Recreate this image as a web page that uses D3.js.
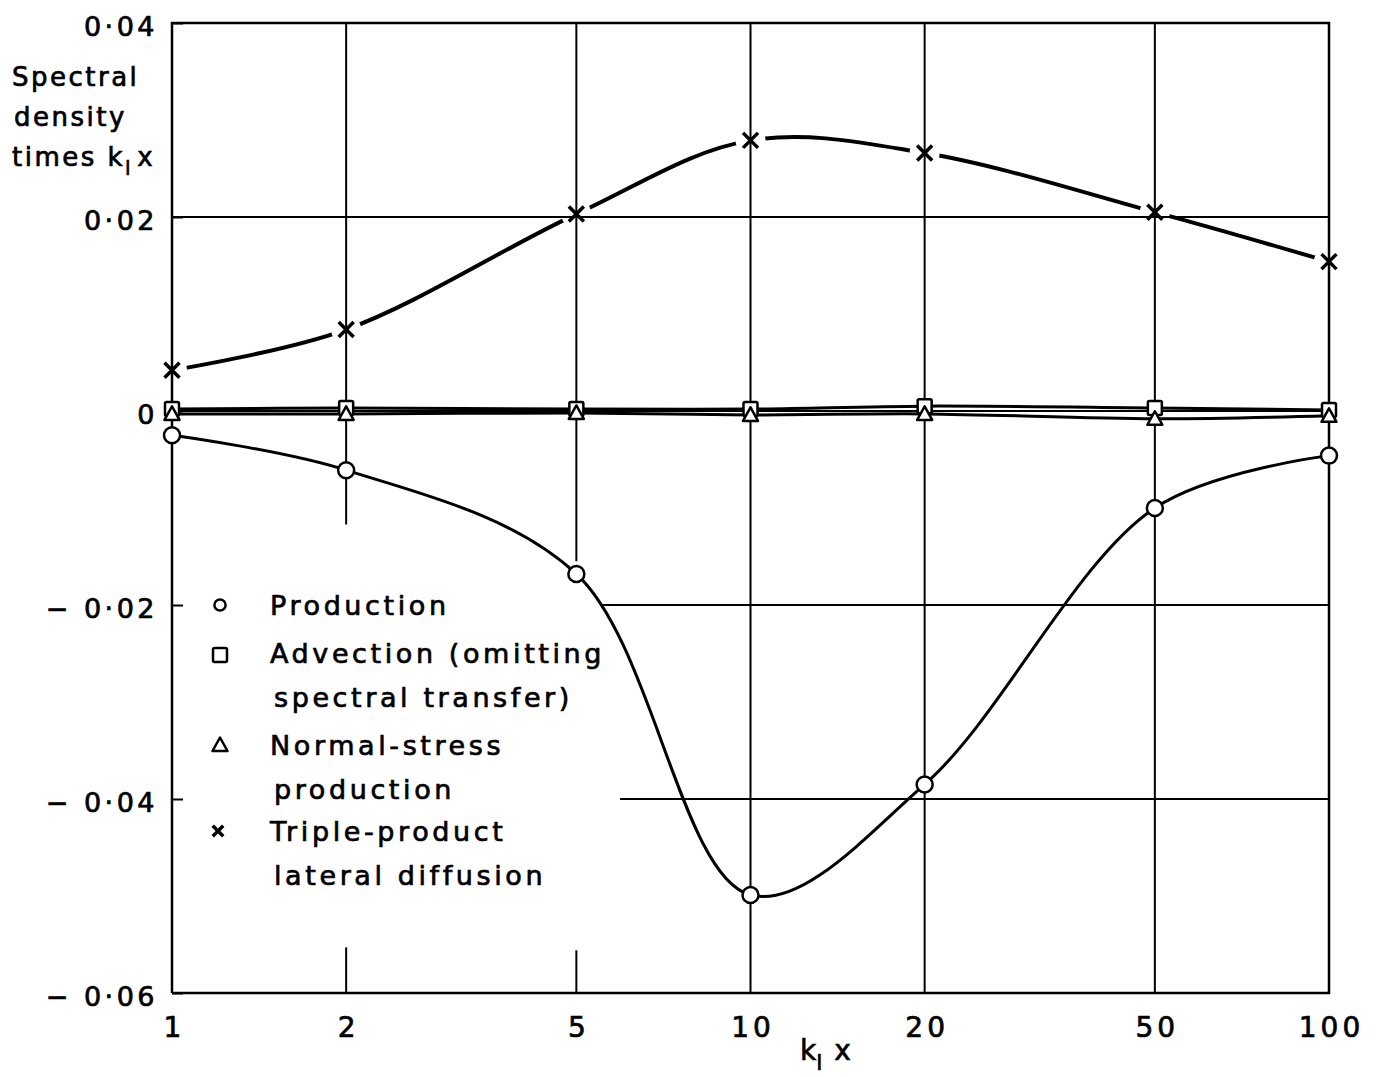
<!DOCTYPE html>
<html>
<head>
<meta charset="utf-8">
<script src="https://cdn.jsdelivr.net/npm/d3@7"></script>
<style>
  body { margin: 0; background: #fff; }
  svg { display: block; }
  text { font-family: "DejaVu Sans", sans-serif; fill: #000; stroke: #000; stroke-width: 0.7px; }
</style>
</head>
<body>
<svg id="chart" width="1389" height="1077"></svg>
<script>
// Wavenumber k1·x at which the spectra were evaluated
const kx = [1, 2, 5, 10, 20, 50, 100];

// Spectral density times k1·x for each term of the energy balance
const production    = [-0.0025, -0.0061, -0.0168, -0.0499, -0.0385, -0.0100, -0.0046];
const advection     = [0.0002, 0.0003, 0.0002, 0.0002, 0.0005, 0.0003, 0.0001];
const normalStress  = [-0.0003, -0.0003, -0.0002, -0.0004, -0.0003, -0.0008, -0.0005];
const tripleProduct = [0.0042, 0.0084, 0.0203, 0.0279, 0.0266, 0.0205, 0.0154];

// Axis ticks
const xTicks = [1, 2, 5, 10, 20, 50, 100];
const xTickLabels = ["1", "2", "5", "10", "20", "50", "100"];
const yTicks = [-0.06, -0.04, -0.02, 0, 0.02, 0.04];
const yTickLabels = ["\u2212 0\u00b706", "\u2212 0\u00b704", "\u2212 0\u00b702", "0", "0\u00b702", "0\u00b704"];

// Legend entries (symbol + wrapped label lines)
const legendSymbols = ["circle", "square", "triangle", "cross"];
const legendLines = [
  ["Production"],
  ["Advection (omitting", "spectral transfer)"],
  ["Normal-stress", "production"],
  ["Triple-product", "lateral diffusion"]
];

const svg = d3.select("#chart");
const L = 172, R = 1329, T = 23, B = 993;

const x = d3.scaleLog().domain([1, 100]).range([L, R]);
const y = d3.scaleLinear().domain([-0.06, 0.04]).range([B, T]);

// ---- grid -------------------------------------------------------------
const grid = svg.append("g").attr("stroke", "#000").attr("stroke-width", 2).attr("fill", "none");
// vertical grid lines, interrupted where the legend sits
const vSegments = [
  [2, -0.0117, 0.04], [2, -0.06, -0.0553],
  [5, -0.0155, 0.04], [5, -0.06, -0.0556],
  [10, -0.06, 0.04], [20, -0.06, 0.04], [50, -0.06, 0.04]
];
vSegments.forEach(([k, a, b]) => {
  grid.append("line").attr("x1", x(k)).attr("x2", x(k)).attr("y1", y(a)).attr("y2", y(b));
});
// horizontal grid lines
const hSegments = [[0.02, 1, 100], [0, 1, 100], [-0.02, 5.5, 100], [-0.04, 5.95, 100]];
hSegments.forEach(([v, a, b]) => {
  grid.append("line").attr("x1", x(a)).attr("x2", x(b)).attr("y1", y(v)).attr("y2", y(v));
});
// frame
grid.append("path")
  .attr("d", `M${L},${B}V${T}H${R}V${B}H${L}`)
  .attr("stroke-width", 2.5);

// ---- axes -------------------------------------------------------------
const yAxis = svg.append("g")
  .attr("transform", `translate(${L},0)`)
  .call(d3.axisLeft(y).tickValues(yTicks)
    .tickFormat((d, i) => yTickLabels[i])
    .tickSizeInner(-11).tickSizeOuter(0).tickPadding(14));
yAxis.select(".domain").remove();
yAxis.selectAll(".tick line").attr("stroke", "#000").attr("stroke-width", 2);
yAxis.selectAll(".tick text")
  .style("font-size", "27px").style("letter-spacing", "3.5px")
  .attr("dy", "0.45em").attr("fill", "#000");

const xAxis = svg.append("g")
  .attr("transform", `translate(0,${B})`)
  .call(d3.axisBottom(x).tickValues(xTicks)
    .tickFormat((d, i) => xTickLabels[i])
    .tickSize(0).tickPadding(24));
xAxis.select(".domain").remove();
xAxis.selectAll(".tick text")
  .style("font-size", "28px").style("letter-spacing", "4px")
  .attr("fill", "#000").attr("dx", "2px");

// x-axis title  k_l x
const xt = svg.append("text").attr("x", 800).attr("y", 1060).style("font-size", "28px");
xt.append("tspan").text("k");
xt.append("tspan").attr("dy", 10).style("font-size", "22px").text("l");
xt.append("tspan").attr("dy", -10).attr("dx", 12).text("x");

// y-axis title
const yt = svg.append("g").style("font-size", "26px").style("letter-spacing", "2.5px");
yt.append("text").attr("x", 12).attr("y", 86).text("Spectral");
yt.append("text").attr("x", 14).attr("y", 126).text("density");
const yt3 = yt.append("text").attr("x", 12).attr("y", 166);
yt3.append("tspan").text("times k");
yt3.append("tspan").attr("dy", 9).style("font-size", "20px").text("l");
yt3.append("tspan").attr("dy", -9).attr("dx", 4).text("x");

// ---- curves -----------------------------------------------------------
const line = d3.line()
  .x((d, i) => x(kx[i]))
  .y(d => y(d))
  .curve(d3.curveCatmullRom.alpha(0.5));

// knock the triple-product curve out around its markers
const mask = svg.append("defs").append("mask").attr("id", "crossGap")
  .attr("maskUnits", "userSpaceOnUse").attr("x", 0).attr("y", 0)
  .attr("width", 1389).attr("height", 1077);
mask.append("rect").attr("width", 1389).attr("height", 1077).attr("fill", "#fff");
mask.selectAll("circle").data(tripleProduct).join("circle")
  .attr("cx", (d, i) => x(kx[i])).attr("cy", d => y(d)).attr("r", 15).attr("fill", "#000");

const curves = svg.append("g").attr("fill", "none").attr("stroke", "#000");
curves.append("path").attr("d", line(tripleProduct)).attr("stroke-width", 4).attr("mask", "url(#crossGap)");
curves.append("path").attr("d", line(production)).attr("stroke-width", 3);
curves.append("path").attr("d", line(advection)).attr("stroke-width", 3);
curves.append("path").attr("d", line(normalStress)).attr("stroke-width", 3);

// ---- markers ----------------------------------------------------------
function drawSymbol(g, kind, cx, cy, s) {
  if (kind === "circle") {
    g.append("circle").attr("cx", cx).attr("cy", cy).attr("r", 8 * s)
      .attr("fill", "#fff").attr("stroke", "#000").attr("stroke-width", 2.5);
  } else if (kind === "square") {
    const h = 7 * s;
    g.append("rect").attr("x", cx - h).attr("y", cy - h).attr("width", 2 * h).attr("height", 2 * h)
      .attr("rx", 1.5).attr("fill", "#fff").attr("stroke", "#000").attr("stroke-width", 2.5);
  } else if (kind === "triangle") {
    const h = 7.5 * s;
    g.append("path").attr("d", `M${cx},${cy - h}L${cx + h},${cy + h * 0.8}L${cx - h},${cy + h * 0.8}Z`)
      .attr("fill", "#fff").attr("stroke", "#000").attr("stroke-width", 2.5).attr("stroke-linejoin", "round");
  } else {
    const h = 7.5 * s;
    g.append("path").attr("d", `M${cx - h},${cy - h}L${cx + h},${cy + h}M${cx + h},${cy - h}L${cx - h},${cy + h}`)
      .attr("stroke", "#000").attr("stroke-width", 3.5).attr("fill", "none");
  }
}

const marks = svg.append("g");
advection.forEach((v, i) => drawSymbol(marks, "square", x(kx[i]), y(v), 1));
normalStress.forEach((v, i) => drawSymbol(marks, "triangle", x(kx[i]), y(v), 1));
production.forEach((v, i) => drawSymbol(marks, "circle", x(kx[i]), y(v), 1));
tripleProduct.forEach((v, i) => drawSymbol(marks, "cross", x(kx[i]), y(v), 1));

// ---- legend -----------------------------------------------------------
const legend = svg.append("g").attr("transform", "translate(220,605)");
const rowY = [0, 48, 140, 226];
legendSymbols.forEach((kind, i) => {
  const g = legend.append("g").attr("transform", `translate(0,${rowY[i]})`);
  if (kind === "circle") drawSymbol(g, kind, 0, 0, 0.7);
  else if (kind === "square") drawSymbol(g, kind, 0, 2, 1);
  else if (kind === "triangle") drawSymbol(g, kind, 0, 0, 1);
  else drawSymbol(g, kind, -2, 0, 0.7);
  legendLines[i].forEach((t, j) => {
    g.append("text").attr("x", j === 0 ? 50 : 54).attr("y", 10 + j * 44)
      .style("font-size", "27px").style("letter-spacing", "3.6px").text(t);
  });
});
</script>
</body>
</html>
